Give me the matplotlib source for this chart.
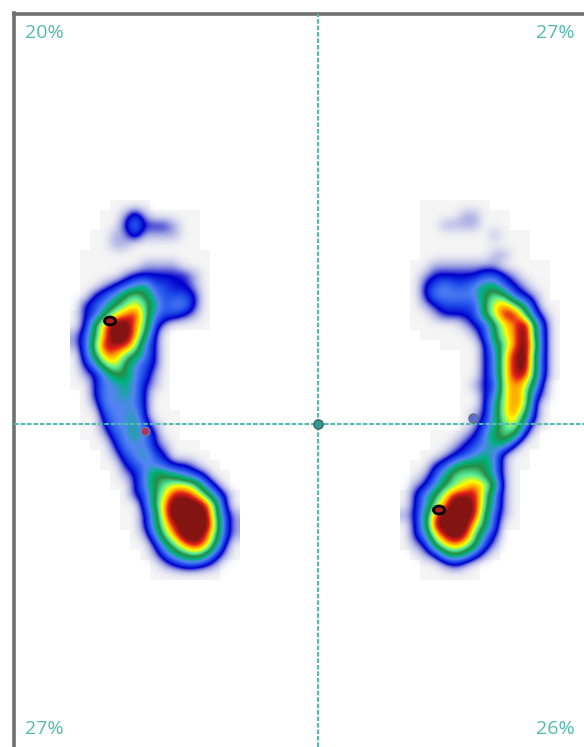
import numpy as np
from matplotlib import pyplot as plt
from matplotlib.colors import LinearSegmentedColormap, ListedColormap
from matplotlib.patches import Ellipse

# percent per quadrant
pct_top_left = "20%"
pct_top_right = "27%"
pct_bottom_left = "27%"
pct_bottom_right = "26%"

# pressure levels, one char per cell, 0 to b (hex)
left_foot = [
    "0",
    "00000131",
    "00000242221",
    "00001131111",
    "000011",
    "0",
    "00000001111",
    "0000012222221",
    "0001234533221",
    "0023467643332",
    "0234678753442",
    "023689a743321",
    "0269bb9731",
    "1369bb962",
    "137aaa842",
    "036997642",
    "024786432",
    "012466431",
    "002445421",
    "00244542",
    "00144442",
    "00034452",
    "000244531",
    "000134542",
    "0000244421",
    "0000134532",
    "0000023443221",
    "00000124665432",
    "000000246788742",
    "0000002368aa9742",
    "0000000369bbba72",
    "0000000259bbbb731",
    "0000000258abbb831",
    "00000001479bba731",
    "000000002579a962",
    "0000000013567631",
    "000000000123321",
    "0",
]
right_foot = [
    "0",
    "00000011",
    "00001111",
    "0000000001",
    "0",
    "00000000011",
    "0001111111",
    "001222223321",
    "0023433455321",
    "00244444676321",
    "00123333689752",
    "0001222368aa731",
    "000000123689b62",
    "000000013689b62",
    "000000002579b72",
    "00000000248ab62",
    "00000000248ab62",
    "00000000248aa62",
    "000000012389851",
    "000000002489831",
    "00000000258982",
    "00000001258962",
    "00000001357841",
    "0000001246762",
    "000001234552",
    "00001234541",
    "00023566641",
    "00135777641",
    "01246789861",
    "02468aaa741",
    "02479bba741",
    "1259bbba631",
    "025abbb863",
    "0248aba742",
    "0126898631",
    "001256531",
    "0000121",
    "0",
]

# grey sensor area, first and last+1 cell of each row
left_from = [4, 3, 3, 2, 2, 1, 1, 1, 1, 1, 1, 0, 0, 0, 0, 0, 0, 0, 0, 1, 1, 1, 1, 1, 2, 3, 3, 4, 4, 5, 5, 5, 5, 6, 6, 7, 8, 8]
left_to = [8, 13, 13, 13, 13, 14, 14, 14, 14, 14, 14, 14, 14, 10, 10, 10, 10, 10, 10, 10, 10, 11, 11, 11, 13, 14, 15, 16, 16, 17, 17, 17, 17, 17, 17, 17, 15, 15]
right_from = [2, 2, 2, 2, 2, 2, 1, 1, 1, 1, 1, 1, 1, 2, 4, 6, 6, 6, 6, 6, 6, 6, 6, 3, 3, 2, 1, 1, 1, 0, 0, 0, 0, 0, 0, 1, 2, 2]
right_to = [9, 11, 11, 13, 13, 13, 15, 15, 15, 15, 16, 16, 16, 16, 16, 16, 16, 16, 15, 15, 15, 15, 15, 14, 14, 13, 13, 12, 12, 12, 12, 12, 12, 10, 10, 10, 8, 8]

# where the grids sit in the picture
left_box = [70, 240, 580, 200]
right_box = [400, 560, 580, 200]

teal = "#52bab1"


def grid_from_rows(rows, ncols):
    out = []
    for r in rows:
        out.append([int(c, 16) for c in r.ljust(ncols, "0")])
    return np.array(out, dtype=float)


def grid_from_runs(start, stop, ncols):
    out = np.zeros((len(start), ncols))
    for i in range(len(start)):
        out[i, start[i]:stop[i]] = 1
    return out


fig = plt.figure(figsize=(5.84, 7.47), dpi=100)
ax = fig.add_axes([13.5 / 584, 0, 570.5 / 584, 733.5 / 747])

# colormap, positions are the levels above
stops = [
    (0 / 11, (0.60, 0.60, 0.88, 0.0)),
    (1 / 11, (0.45, 0.48, 0.85, 0.6)),
    (2 / 11, (0.0, 0.0, 0.80, 1.0)),
    (3 / 11, (0.12, 0.30, 0.92, 1.0)),
    (4 / 11, (0.33, 0.52, 0.95, 1.0)),
    (5 / 11, (0.0, 0.70, 0.50, 1.0)),
    (6 / 11, (0.15, 0.55, 0.28, 1.0)),
    (7 / 11, (0.35, 0.93, 0.60, 1.0)),
    (8 / 11, (1.0, 1.0, 0.0, 1.0)),
    (8.8 / 11, (1.0, 0.62, 0.0, 1.0)),
    (9.5 / 11, (0.90, 0.12, 0.10, 1.0)),
    (10.2 / 11, (0.52, 0.08, 0.07, 1.0)),
    (11 / 11, (0.52, 0.08, 0.07, 1.0)),
]
heat = LinearSegmentedColormap.from_list("pressure", stops, N=512)
grey = ListedColormap([(1, 1, 1, 0), "#f5f5f5"])

ax.imshow(grid_from_runs(left_from, left_to, 17), cmap=grey, vmin=0, vmax=1,
          extent=left_box, interpolation="nearest", aspect="auto", zorder=1)
ax.imshow(grid_from_runs(right_from, right_to, 16), cmap=grey, vmin=0, vmax=1,
          extent=right_box, interpolation="nearest", aspect="auto", zorder=1)
ax.imshow(grid_from_rows(left_foot, 17), cmap=heat, vmin=0, vmax=11,
          extent=left_box, interpolation="bicubic", aspect="auto", zorder=2)
ax.imshow(grid_from_rows(right_foot, 16), cmap=heat, vmin=0, vmax=11,
          extent=right_box, interpolation="bicubic", aspect="auto", zorder=2)

ax.set_xlim(13.5, 584)
ax.set_ylim(747, 13.5)

# cross lines
ax.axvline(318, color=teal, lw=1.5, ls=(0, (2.2, 0.9)), zorder=3)
ax.axhline(424, color=teal, lw=1.5, ls=(0, (2.2, 0.9)), zorder=3)
ax.plot([318], [424], "o", ms=6.5, mfc="#2f9a94", mec="#3c6e6c", mew=1.2, zorder=4)

# max points and centres of pressure
for x, y in [(110, 321), (439, 510)]:
    ax.add_patch(Ellipse((x, y), 11, 8, fc="#b02020", ec="black", lw=2, zorder=4))
ax.plot([145], [431], "o", ms=6, mfc="#b03060", mec="#708090", mew=1, zorder=4)
ax.plot([473], [418], "o", ms=6.5, mfc="#5a6fd0", mec="#607080", mew=1, zorder=4)

# labels
for x, y, txt, side in [(25, 33, pct_top_left, "left"), (575, 33, pct_top_right, "right"),
                        (25, 729, pct_bottom_left, "left"), (575, 729, pct_bottom_right, "right")]:
    ax.text(x, y, txt, color=teal, fontsize=14, family="Open Sans", weight=500, ha=side, va="center")

# only left and top frame
ax.set_xticks([])
ax.set_yticks([])
ax.spines["right"].set_visible(False)
ax.spines["bottom"].set_visible(False)
ax.spines["left"].set_color("#707070")
ax.spines["top"].set_color("#707070")
ax.spines["left"].set_linewidth(2.6)
ax.spines["top"].set_linewidth(2.6)

fig.savefig("out.png", dpi=100)
